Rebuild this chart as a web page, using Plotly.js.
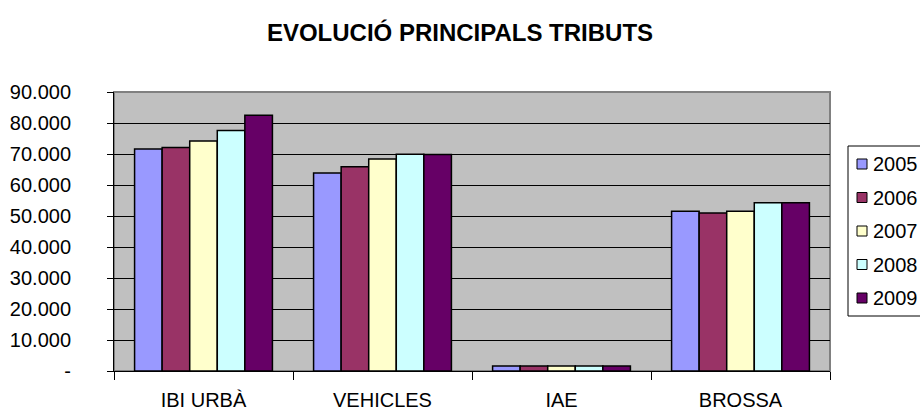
<!DOCTYPE html>
<html>
<head>
<meta charset="utf-8">
<script src="https://cdn.plot.ly/plotly-3.0.1.min.js"></script>
<style>html,body{margin:0;padding:0;background:#fff;}#chart{width:920px;height:410px;}</style>
</head>
<body>
<div id="chart"></div>
<script>
const categories = ['IBI URBÀ', 'VEHICLES', 'IAE', 'BROSSA'];
const years = ['2005', '2006', '2007', '2008', '2009'];
const v2005 = [71600, 63900, 1600, 51500];
const v2006 = [72100, 65900, 1600, 51000];
const v2007 = [74200, 68400, 1600, 51500];
const v2008 = [77600, 69900, 1600, 54300];
const v2009 = [82500, 69800, 1600, 54300];
const yTickVals = [0, 10000, 20000, 30000, 40000, 50000, 60000, 70000, 80000, 90000];
const yTickText = ['-', '10.000', '20.000', '30.000', '40.000', '50.000', '60.000', '70.000', '80.000', '90.000'];
const colors = ['#9999FF', '#993366', '#FFFFCC', '#CCFFFF', '#660066'];

const series = [v2005, v2006, v2007, v2008, v2009];
const traces = series.map((vals, i) => ({
  type: 'bar',
  name: years[i],
  x: categories,
  y: vals,
  showlegend: false,
  marker: {color: colors[i], line: {color: '#000', width: 1.5}}
}));

// plot area in pixels: x 114..830, y 92..371
const W = 920, H = 410, L = 114, R = 830, T = 92, B = 371;
const px = x => (x - L) / (R - L);
const py = y => (B - y) / (B - T);

const shapes = [
  {type: 'rect', xref: 'paper', yref: 'paper', x0: 0, x1: 1, y0: 0, y1: 1, line: {color: '#808080', width: 2}, layer: 'below'},
  {type: 'rect', xref: 'paper', yref: 'paper', x0: px(848), x1: px(930), y0: py(146), y1: py(316), line: {color: '#000', width: 1}, fillcolor: '#fff', layer: 'above'}
];
const annotations = [];
years.forEach((yr, i) => {
  const cy = 164 + i * 33.5;
  shapes.push({type: 'rect', xref: 'paper', yref: 'paper', x0: px(857), x1: px(867), y0: py(cy - 5), y1: py(cy + 5), line: {color: '#000', width: 1}, fillcolor: colors[i], layer: 'above'});
  annotations.push({xref: 'paper', yref: 'paper', x: px(871), y: py(cy), xanchor: 'left', yanchor: 'middle', text: yr, showarrow: false, font: {family: 'Arial, "Liberation Sans", sans-serif', size: 20, color: '#000'}});
});

const font = 'Arial, "Liberation Sans", sans-serif';
const layout = {
  width: W, height: H,
  margin: {l: L, r: W - R, t: T, b: H - B},
  paper_bgcolor: '#fff',
  plot_bgcolor: '#C0C0C0',
  barmode: 'group',
  bargap: 0.23,
  bargroupgap: 0,
  font: {family: font, size: 20, color: '#000'},
  title: {text: '<b>EVOLUCIÓ PRINCIPALS TRIBUTS</b>', x: 0.5, xanchor: 'center', y: 1 - 33 / H, yanchor: 'middle', font: {family: font, size: 24, color: '#000'}},
  xaxis: {
    type: 'category',
    tickson: 'boundaries',
    ticks: 'outside', ticklen: 8, tickcolor: '#000', tickwidth: 1,
    showline: true, linecolor: '#000', linewidth: 1,
    showgrid: false,
    ticklabelstandoff: 11,
    tickfont: {family: font, size: 20},
    fixedrange: true
  },
  yaxis: {
    range: [0, 90000],
    tickvals: yTickVals, ticktext: yTickText,
    ticks: 'outside', ticklen: 6, tickcolor: '#000', tickwidth: 1,
    showline: true, linecolor: '#000', linewidth: 1,
    showgrid: true, gridcolor: '#000', gridwidth: 1,
    zeroline: false,
    ticklabelstandoff: 32,
    tickfont: {family: font, size: 20},
    fixedrange: true
  },
  shapes: shapes,
  annotations: annotations,
  showlegend: false
};

Plotly.newPlot('chart', traces, layout, {displayModeBar: false, staticPlot: true});
</script>
</body>
</html>
